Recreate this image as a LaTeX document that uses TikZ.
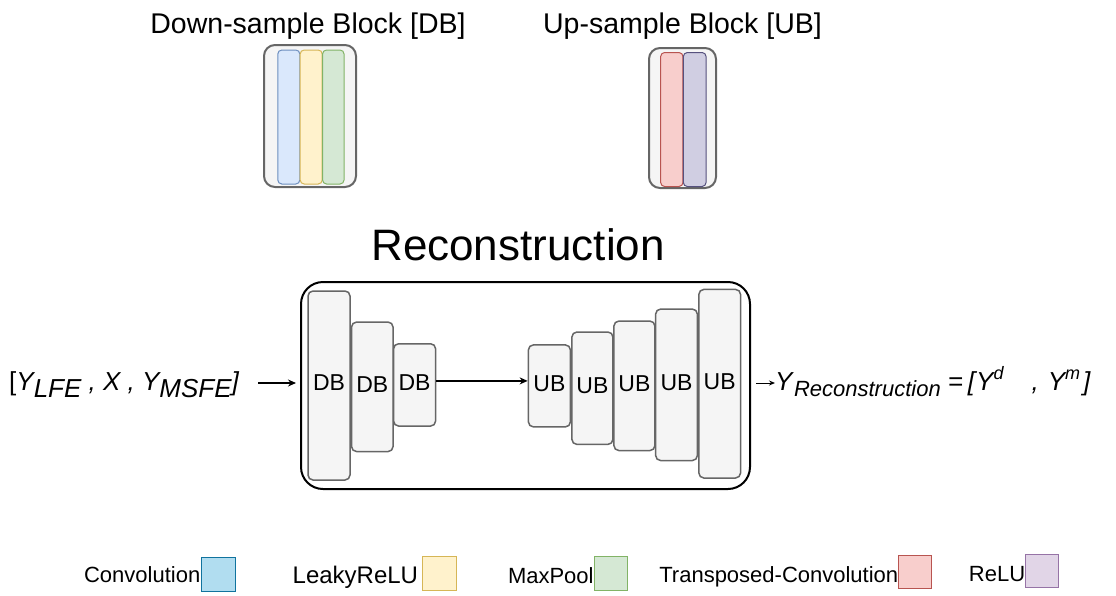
\documentclass[tikz,border=0pt]{standalone}
\usepackage{fontspec}
\setmainfont{Liberation Sans}
\usetikzlibrary{arrows.meta}

\definecolor{panelfill}{HTML}{F5F5F5}
\definecolor{panelline}{HTML}{666666}
\definecolor{convfill}{HTML}{DAE8FC}\definecolor{convline}{HTML}{6C8EBF}
\definecolor{leakyfill}{HTML}{FFF2CC}\definecolor{leakyline}{HTML}{D6B656}
\definecolor{poolfill}{HTML}{D5E8D4}\definecolor{poolline}{HTML}{82B366}
\definecolor{tconvfill}{HTML}{F8CECC}\definecolor{tconvline}{HTML}{B85450}
\definecolor{relufill}{HTML}{D0CEE2}\definecolor{reluline}{HTML}{56517E}
\definecolor{legconvfill}{HTML}{B1DDF0}\definecolor{legconvline}{HTML}{10739E}
\definecolor{legrelufill}{HTML}{E1D5E7}\definecolor{legreluline}{HTML}{9673A6}

\newcommand{\fs}[1]{\fontsize{#1}{#1}\selectfont}
\newcommand{\lowered}[2]{\raisebox{-#1}{#2}}
% block label, lifted slightly above the box centre
\newcommand{\blabel}[1]{\raisebox{2.5pt}[\height][\depth]{#1}}

\tikzset{
  panel/.style={draw=panelline, fill=panelfill, line width=2pt, rounded corners=11pt, inner sep=0pt},
  strip/.style={line width=1pt, rounded corners=4pt, inner sep=0pt},
  blockbox/.style={draw=panelline, fill=panelfill, line width=1.5pt, rounded corners=5pt,
    inner sep=0pt, font=\fs{23}},
  legbox/.style={line width=1pt, inner sep=0pt, minimum width=33pt, minimum height=33pt},
  legtext/.style={inner sep=0pt, font=\fs{22}},
  arr/.style={line width=1.4pt, -{Stealth[length=8pt,width=7pt]}},
  arrsmall/.style={line width=1pt, -{Stealth[length=6pt,width=5pt]}},
}

\begin{document}
\begin{tikzpicture}[x=1pt,y=-1pt]
\useasboundingbox (0,0) rectangle (1116,595);

% ---- block legends at the top ----
\node[anchor=base, inner sep=0pt, font=\fs{28.5}] (dbtitle) at (308,33) {Down-sample Block [DB]};
\node[anchor=base, inner sep=0pt, font=\fs{28.5}] (ubtitle) at (682.5,33) {Up-sample Block [UB]};

\node[panel, minimum width=92pt, minimum height=142pt] (dbpanel) at (310,116) {};
\node[strip, draw=convline, fill=convfill, minimum width=22pt, minimum height=134pt] (dbconv) at (288.8,117) {};
\node[strip, draw=leakyline, fill=leakyfill, minimum width=22pt, minimum height=134pt] (dbleaky) at (311.2,117) {};
\node[strip, draw=poolline, fill=poolfill, minimum width=21.5pt, minimum height=134pt] (dbpool) at (333.3,117) {};

\node[panel, minimum width=67pt, minimum height=140pt] (ubpanel) at (682.5,118) {};
\node[strip, draw=tconvline, fill=tconvfill, minimum width=22.3pt, minimum height=134pt] (ubtconv) at (671.8,119.5) {};
\node[strip, draw=reluline, fill=relufill, minimum width=22.7pt, minimum height=134pt] (ubrelu) at (694.7,119.5) {};

% ---- reconstruction network ----
\node[anchor=base, inner sep=0pt, font=\fs{44}] (rtitle) at (518,260) {Reconstruction};

\node[draw=black, line width=2pt, rounded corners=22pt, minimum width=449pt, minimum height=207pt,
  inner sep=0pt] (recon) at (525.5,385.5) {};

\node[blockbox, minimum width=42pt, minimum height=189pt] (db1) at (329,385.5) {\blabel{DB}};
\node[blockbox, minimum width=41.5pt, minimum height=129.5pt] (db2) at (372.3,386.8) {\blabel{DB}};
\node[blockbox, minimum width=42pt, minimum height=82.3pt] (db3) at (414.6,384.9) {\blabel{DB}};

\node[blockbox, minimum width=42pt, minimum height=82pt] (ub1) at (549.4,385.9) {\blabel{UB}};
\node[blockbox, minimum width=41pt, minimum height=112.4pt] (ub2) at (592.4,388.2) {\blabel{UB}};
\node[blockbox, minimum width=41pt, minimum height=129.5pt] (ub3) at (634.4,385.8) {\blabel{UB}};
\node[blockbox, minimum width=41.7pt, minimum height=151.5pt] (ub4) at (676.5,384.8) {\blabel{UB}};
\node[blockbox, minimum width=41.7pt, minimum height=188.6pt] (ub5) at (719.7,383.7) {\blabel{UB}};

\draw[arr] ([yshift=4pt]db3.east) -- ([yshift=4pt]db3.east -| ub1.west);

% ---- input and output ----
\node[anchor=base west, inner sep=0pt, font=\fs{26}] (inp) at (9,390)
  {[\textit{Y\lowered{7pt}{LFE} , X , Y\lowered{7pt}{MSFE}]}};
\coordinate (inarrow) at (258,383);
\draw[arr] (inarrow) -- ([xshift=-4pt]inarrow -| recon.west);

\node[anchor=base west, inner sep=0pt, font=\fs{26}] (outp) at (775,390)
  {\textit{Y\hspace{1.5pt}\lowered{6.5pt}{\fs{22}Reconstruction}\hspace{7pt}=\hspace{5pt}[\hspace{1pt}Y\raisebox{11pt}{\fs{18}d}\hspace{28pt},\hspace{9pt}Y\raisebox{11pt}{\fs{18}m}\hspace{3pt}]}};
\coordinate (outarrow) at (756,383);
\draw[arrsmall] (outarrow) -- (outarrow -| outp.west);

% ---- colour legend ----
\node[legbox, draw=legconvline, fill=legconvfill, minimum width=34pt, minimum height=34pt] (lconv) at (218,574) {};
\node[legbox, draw=leakyline, fill=leakyfill, minimum width=34pt, minimum height=34pt] (lleaky) at (439.8,573.8) {};
\node[legbox, draw=poolline, fill=poolfill, minimum height=34pt] (lpool) at (610.8,573) {};
\node[legbox, draw=tconvline, fill=tconvfill] (ltconv) at (915.4,572.4) {};
\node[legbox, draw=legreluline, fill=legrelufill] (lrelu) at (1042.4,571.4) {};

\node[legtext, anchor=base east] (tconv) at ([yshift=-8pt]lconv.west) {Convolution};
\node[legtext, anchor=base east, font=\fs{24}] (tleaky) at ([xshift=-4pt,yshift=-9.2pt]lleaky.west) {LeakyReLU};
\node[legtext, anchor=base east] (tpool) at ([yshift=-10pt]lpool.west) {MaxPool};
\node[legtext, anchor=base east] (ttconv) at ([yshift=-9.6pt]ltconv.west) {Transposed-Convolution};
\node[legtext, anchor=base east] (trelu) at ([yshift=-10pt]lrelu.west) {ReLU};
\end{tikzpicture}
\end{document}
